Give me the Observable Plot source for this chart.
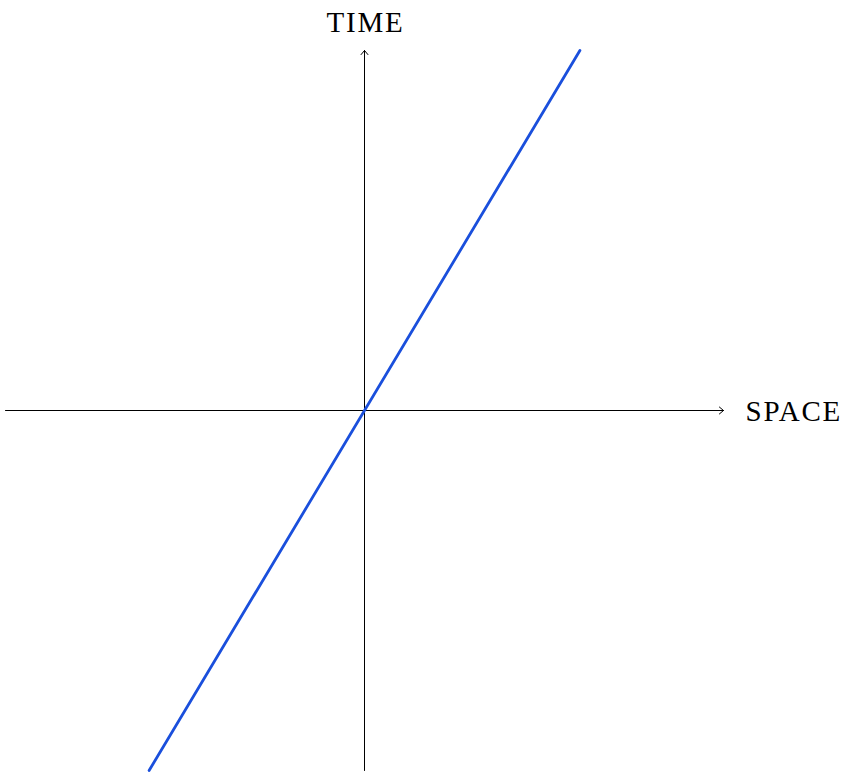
<!DOCTYPE html>
<html>
<head>
<meta charset="utf-8">
<script src="https://cdn.jsdelivr.net/npm/d3@7"></script>
<script src="https://cdn.jsdelivr.net/npm/@observablehq/plot@0.6"></script>
<style>
  html, body { margin: 0; padding: 0; background: #fff; }
  #chart svg text { letter-spacing: 1.8px; }
</style>
</head>
<body>
<div id="chart"></div>
<script>
// Axis extents (data units)
const xExtent = [-10, 10];
const yExtent = [-10, 10];

// Worldline (space, time)
const lineSpace = [-6, 6];
const lineTime = [-10, 10];

// Axis labels
const axisLabels = ["SPACE", "TIME"];

const axes = [
  {x1: xExtent[0], y1: 0, x2: xExtent[1], y2: 0},
  {x1: 0, y1: yExtent[0], x2: 0, y2: yExtent[1]}
];
const worldline = lineSpace.map((s, i) => ({space: s, time: lineTime[i]}));

const chart = Plot.plot({
  width: 854,
  height: 773,
  marginLeft: 5,
  marginRight: 131,
  marginTop: 50,
  marginBottom: 3,
  x: {domain: xExtent, axis: null},
  y: {domain: yExtent, axis: null},
  style: {background: "#fff"},
  marks: [
    Plot.arrow(axes, {
      x1: "x1", y1: "y1", x2: "x2", y2: "y2",
      stroke: "#000", strokeWidth: 1, headLength: 8, headAngle: 80
    }),
    Plot.line(worldline, {
      x: "space", y: "time",
      stroke: "#1a4fdc", strokeWidth: 2.8
    }),
    Plot.text([axisLabels[0]], {
      x: xExtent[1], y: 0, text: d => d,
      textAnchor: "start", dx: 22, dy: 1,
      fontSize: 29, fontFamily: "Liberation Serif, DejaVu Serif, serif",
      fill: "#000"
    }),
    Plot.text([axisLabels[1]], {
      x: 0, y: yExtent[1], text: d => d,
      dy: -28, dx: 1, fontSize: 29,
      fontFamily: "Liberation Serif, DejaVu Serif, serif",
      fill: "#000"
    })
  ]
});
document.getElementById("chart").appendChild(chart);
</script>
</body>
</html>
